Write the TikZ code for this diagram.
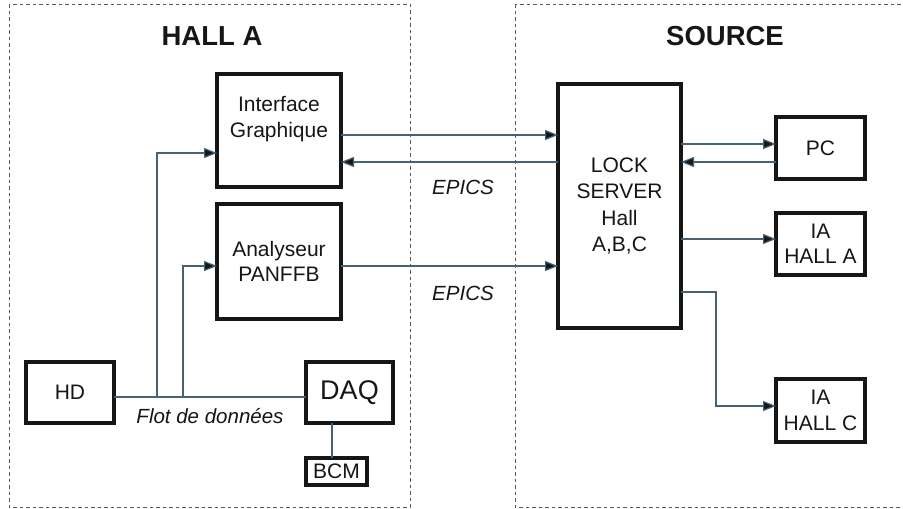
\documentclass[tikz,border=0pt]{standalone}
\usepackage{fontspec}
\setmainfont{Liberation Sans}
\usetikzlibrary{arrows.meta}
\definecolor{wire}{RGB}{70,98,116}
\definecolor{frame}{RGB}{85,90,95}
\definecolor{ink}{RGB}{22,22,22}
\tikzset{
  blk/.style={draw=ink,line width=3.3pt,inner sep=0pt,outer sep=0pt,fill=white,
    text=ink,align=center,font=\fontsize{21}{25.5}\selectfont},
  wirel/.style={draw=wire,line width=1.2pt},
  arr/.style={wirel,-{Triangle[length=13pt,width=10pt,fill=ink]}},
  zone/.style={draw=frame,line width=1pt,dash pattern=on 3.5pt off 3pt},
  title/.style={text=ink,font=\fontsize{27.5}{30}\selectfont\bfseries},
  note/.style={text=ink,font=\fontsize{20.5}{24}\selectfont\itshape},
  txt/.style={text=ink,align=center,font=\fontsize{21}{25.5}\selectfont}
}
\begin{document}
\begin{tikzpicture}[x=1pt,y=-1pt]
\clip (0,0) rectangle (903,509);
\fill[white] (0,0) rectangle (903,509);
% zones
\draw[zone] (9,4) rectangle (410,507);
\draw[zone] (515,4) rectangle (910,507);
\node[title] (tA) at (212,36) {HALL A};
\node[title] (tS) at (725,36) {SOURCE};
% row/column helper coordinates
\coordinate (r135) at (0,135);
\coordinate (r144) at (0,144);
\coordinate (r153) at (0,153);
\coordinate (r162) at (0,162);
\coordinate (r239) at (0,239);
\coordinate (r266) at (0,266);
\coordinate (r292) at (0,292);
\coordinate (r397) at (0,397);
\coordinate (r406) at (0,406);
\coordinate (c157) at (157,0);
\coordinate (c183) at (183,0);
\coordinate (c332) at (332,0);
\coordinate (c716) at (716,0);
% blocks
\node[blk,minimum width=124pt,minimum height=113pt] (ig) at (279,130.5) {};
\node[txt] (igt) at (279,119) {Interface\\Graphique};
\node[blk,minimum width=124pt,minimum height=115pt] (an) at (279,261.5) {Analyseur\\PANFFB};
\node[blk,minimum width=88pt,minimum height=61pt] (hd) at (70,392.5) {HD};
\node[blk,minimum width=87pt,minimum height=61pt,font=\fontsize{27}{30}\selectfont] (daq) at (349.5,392.5) {DAQ};
\node[blk,minimum width=61pt,minimum height=27pt,font=\fontsize{21}{24}\selectfont] (bcm) at (336.5,471.5) {BCM};
\node[blk,minimum width=123pt,minimum height=244pt,font=\fontsize{21}{26.5}\selectfont] (ls) at (619.5,206) {LOCK\\SERVER\\Hall\\A,B,C};
\node[blk,minimum width=89pt,minimum height=62pt] (pc) at (820.5,148) {PC};
\node[blk,minimum width=89pt,minimum height=62pt] (iaa) at (820.5,244) {IA\\HALL A};
\node[blk,minimum width=89pt,minimum height=63pt] (iac) at (820.5,410.5) {IA\\HALL C};
% data flow
\draw[wirel] (hd.east |- r397) -- (daq.west |- r397);
\coordinate (j1) at (c157 |- r397);
\coordinate (j2) at (c183 |- r397);
\draw[arr] (j1) |- (ig.west |- r153);
\draw[arr] (j2) |- (an.west |- r266);
\draw[wirel] (daq.south -| c332) -- (bcm.north -| c332);
\node[note] (flot) at (210,416) {Flot de données};
% EPICS links
\draw[arr] (ig.east |- r135) -- (ls.west |- r135);
\draw[arr] (ls.west |- r162) -- (ig.east |- r162);
\draw[arr] (an.east |- r266) -- (ls.west |- r266);
\node[note] (ep1) at (463,187) {EPICS};
\node[note] (ep2) at (463,293) {EPICS};
% source side
\draw[arr] (ls.east |- r144) -- (pc.west |- r144);
\draw[arr] (pc.west |- r162) -- (ls.east |- r162);
\draw[arr] (ls.east |- r239) -- (iaa.west |- r239);
\draw[arr] (ls.east |- r292) -| (c716 |- r406) -- (iac.west |- r406);
\end{tikzpicture}
\end{document}
